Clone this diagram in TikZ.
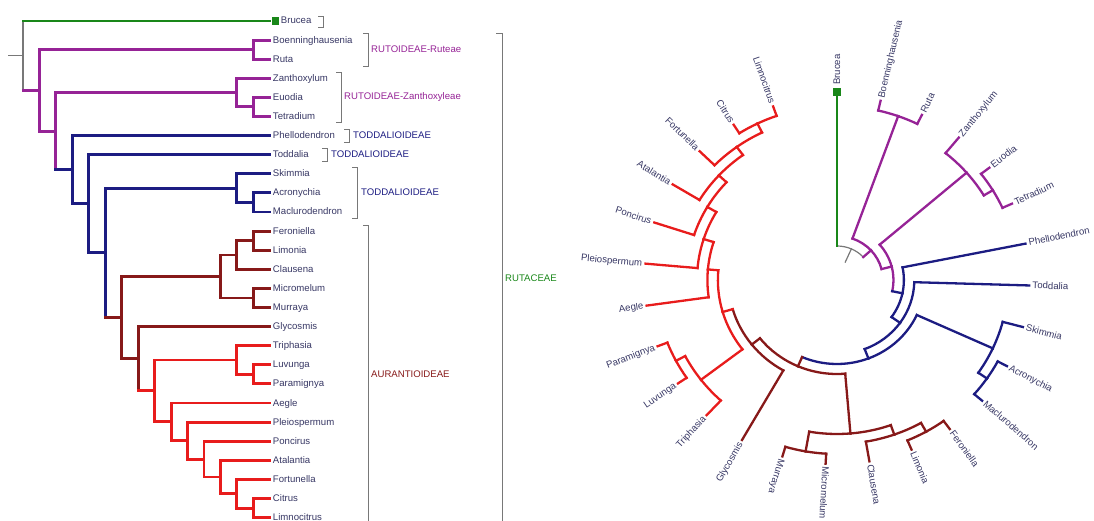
\documentclass[tikz,border=0pt]{standalone}
\usepackage{fontspec}
\setmainfont{Liberation Sans}

\definecolor{rutgreen}{RGB}{25,135,25}
\definecolor{rutpurple}{RGB}{150,35,150}
\definecolor{todblue}{RGB}{28,28,130}
\definecolor{aurbrown}{RGB}{135,25,25}
\definecolor{citred}{RGB}{232,28,28}
\definecolor{taxongray}{RGB}{55,55,100}
\definecolor{treegray}{RGB}{120,120,120}

% left tree: x from depth level, y from leaf rank
\newcommand{\treex}[1]{23+16.45*(#1)}
\newcommand{\treey}[1]{21+19.1*(#1)}
% circular tree: angle from leaf rank, radius from depth level
\newcommand{\circang}[1]{90-13.1*(#1)}
\newcommand{\circrad}[1]{34+10*(#1)}

\tikzset{
  lbranch/.style={line width=2.9pt, line cap=rect},
  rbranch/.style={line width=2.3pt, line cap=rect},
  rootline/.style={treegray, line width=1.2pt},
  brucea/.style={rutgreen}, ruto/.style={rutpurple}, todd/.style={todblue},
  auran/.style={aurbrown}, citr/.style={citred},
  circ/.style={shift={(837,280)}, xscale=1.045, yscale=-1},
  taxon/.style={taxongray, font=\fontsize{9.6}{11}\selectfont, inner sep=0pt, text height=7pt, text depth=1pt},
  grouplab/.style={font=\fontsize{9.6}{11}\selectfont, inner sep=0pt, anchor=west, text height=7pt, text depth=1pt},
  bracket/.style={treegray, line width=0.8pt}
}

% one edge: parent level, parent rank, child level, child rank, parent style, child style
\newcommand{\branch}[6]{%
  \draw[lbranch,#5] ({\treex{#1}},{\treey{#2}}) -- ({\treex{#1}},{\treey{#4}});
  \draw[lbranch,#6] ({\treex{#1}},{\treey{#4}}) -- ({\treex{#3}},{\treey{#4}});
  \begin{scope}[circ]
    \draw[rbranch,#5] ({\circang{#2}}:{\circrad{#1}}) arc[start angle={\circang{#2}}, end angle={\circang{#4}}, radius={\circrad{#1}}];
    \draw[rbranch,#6] ({\circang{#4}}:{\circrad{#1}}) -- ({\circang{#4}}:{\circrad{#3}});
  \end{scope}}

% one leaf label in both trees: rank, name, gap after the tip
\newcommand{\taxon}[3]{%
  \node[taxon,anchor=west] (lt#1) at ({\treex{15}+#3},{\treey{#1}}) {#2};
  \begin{scope}[circ]
    \ifnum#1>15
      \node[taxon,anchor=east,rotate={\circang{#1}+180}] (ct#1) at ({\circang{#1}}:{\circrad{15}+#3}) {#2};
    \else
      \node[taxon,anchor=west,rotate={\circang{#1}}] (ct#1) at ({\circang{#1}}:{\circrad{15}+#3}) {#2};
    \fi
  \end{scope}}

\begin{document}
\begin{tikzpicture}[x=1pt,y=-1pt]
	\useasboundingbox (0,0) rectangle (1094,521);
	
	% ROOT
	\draw[rootline] (8,{\treey{1.82}}) -- ({\treex{0}},{\treey{1.82}});
	\begin{scope}[circ]
	\draw[rootline] ({\circang{1.82}}:{\circrad{0}}) -- ({\circang{1.82}}:19);
	\end{scope}
	\branch{0}{1.82}{15}{0}{rootline}{brucea}
	\branch{0}{1.82}{1}{3.635}{rootline}{ruto}
	
	% RUTOIDEAE
	\branch{1}{3.635}{14}{1.5}{ruto}{ruto}
	\branch{1}{3.635}{2}{5.77}{ruto}{ruto}
	\branch{14}{1.5}{15}{1}{ruto}{ruto}
	\branch{14}{1.5}{15}{2}{ruto}{ruto}
	\branch{2}{5.77}{13}{3.75}{ruto}{ruto}
	\branch{2}{5.77}{3}{7.785}{ruto}{todd}
	\branch{13}{3.75}{15}{3}{ruto}{ruto}
	\branch{13}{3.75}{14}{4.5}{ruto}{ruto}
	\branch{14}{4.5}{15}{4}{ruto}{ruto}
	\branch{14}{4.5}{15}{5}{ruto}{ruto}
	
	% TODDALIOIDEAE
	\branch{3}{7.785}{15}{6}{todd}{todd}
	\branch{3}{7.785}{4}{9.57}{todd}{todd}
	\branch{4}{9.57}{15}{7}{todd}{todd}
	\branch{4}{9.57}{5}{12.14}{todd}{todd}
	\branch{5}{12.14}{13}{8.75}{todd}{todd}
	\branch{5}{12.14}{6}{15.529}{todd}{auran}
	\branch{13}{8.75}{15}{8}{todd}{todd}
	\branch{13}{8.75}{14}{9.5}{todd}{todd}
	\branch{14}{9.5}{15}{9}{todd}{todd}
	\branch{14}{9.5}{15}{10}{todd}{todd}
	
	% AURANTIOIDEAE
	\branch{6}{15.529}{12}{13.375}{auran}{auran}
	\branch{6}{15.529}{7}{17.684}{auran}{auran}
	\branch{12}{13.375}{13}{12.25}{auran}{auran}
	\branch{12}{13.375}{14}{14.5}{auran}{auran}
	\branch{13}{12.25}{14}{11.5}{auran}{auran}
	\branch{13}{12.25}{15}{13}{auran}{auran}
	\branch{14}{11.5}{15}{11}{auran}{auran}
	\branch{14}{11.5}{15}{12}{auran}{auran}
	\branch{14}{14.5}{15}{14}{auran}{auran}
	\branch{14}{14.5}{15}{15}{auran}{auran}
	\branch{7}{17.684}{15}{16}{auran}{auran}
	\branch{7}{17.684}{8}{19.367}{auran}{citr}
	
	% CITRUS GROUP
	\branch{8}{19.367}{13}{17.75}{citr}{citr}
	\branch{8}{19.367}{9}{20.984}{citr}{citr}
	\branch{13}{17.75}{15}{17}{citr}{citr}
	\branch{13}{17.75}{14}{18.5}{citr}{citr}
	\branch{14}{18.5}{15}{18}{citr}{citr}
	\branch{14}{18.5}{15}{19}{citr}{citr}
	\branch{9}{20.984}{15}{20}{citr}{citr}
	\branch{9}{20.984}{10}{21.969}{citr}{citr}
	\branch{10}{21.969}{15}{21}{citr}{citr}
	\branch{10}{21.969}{11}{22.9375}{citr}{citr}
	\branch{11}{22.9375}{15}{22}{citr}{citr}
	\branch{11}{22.9375}{12}{23.875}{citr}{citr}
	\branch{12}{23.875}{15}{23}{citr}{citr}
	\branch{12}{23.875}{13}{24.75}{citr}{citr}
	\branch{13}{24.75}{15}{24}{citr}{citr}
	\branch{13}{24.75}{14}{25.5}{citr}{citr}
	\branch{14}{25.5}{15}{25}{citr}{citr}
	\branch{14}{25.5}{15}{26}{citr}{citr}
	
	% outgroup marks
	\fill[rutgreen] (272,17.5) rectangle (279,25.5);
	\begin{scope}[circ]
	\fill[rutgreen] (-3.6,184) rectangle (3.6,192);
	\end{scope}
	
	% LEAVES
	\taxon{0}{Brucea}{11}
	\taxon{1}{Boenninghausenia}{3}
	\taxon{2}{Ruta}{3}
	\taxon{3}{Zanthoxylum}{3}
	\taxon{4}{Euodia}{3}
	\taxon{5}{Tetradium}{3}
	\taxon{6}{Phellodendron}{3}
	\taxon{7}{Toddalia}{3}
	\taxon{8}{Skimmia}{3}
	\taxon{9}{Acronychia}{3}
	\taxon{10}{Maclurodendron}{3}
	\taxon{11}{Feroniella}{3}
	\taxon{12}{Limonia}{3}
	\taxon{13}{Clausena}{3}
	\taxon{14}{Micromelum}{3}
	\taxon{15}{Murraya}{3}
	\taxon{16}{Glycosmis}{3}
	\taxon{17}{Triphasia}{3}
	\taxon{18}{Luvunga}{3}
	\taxon{19}{Paramignya}{3}
	\taxon{20}{Aegle}{3}
	\taxon{21}{Pleiospermum}{3}
	\taxon{22}{Poncirus}{3}
	\taxon{23}{Atalantia}{3}
	\taxon{24}{Fortunella}{3}
	\taxon{25}{Citrus}{3}
	\taxon{26}{Limnocitrus}{3}
	
	% GROUPS
	\draw[bracket] (318,16) -- (323,16) -- (323,27) -- (318,27);
	\draw[bracket] (363,33) -- (368,33) -- (368,66) -- (363,66);
	\path (371,49.5) node[grouplab, rutpurple] (ruteae) {RUTOIDEAE-Ruteae};
	\draw[bracket] (336,72) -- (341,72) -- (341,122) -- (336,122);
	\path (344,97) node[grouplab, rutpurple] (zanthox) {RUTOIDEAE-Zanthoxyleae};
	\draw[bracket] (344,129) -- (349,129) -- (349,142) -- (344,142);
	\path (353,135.5) node[grouplab, todblue] (toddA) {TODDALIOIDEAE};
	\draw[bracket] (322,148) -- (327,148) -- (327,161) -- (322,161);
	\path (331,154.5) node[grouplab, todblue] (toddB) {TODDALIOIDEAE};
	\draw[bracket] (352,167) -- (357,167) -- (357,218) -- (352,218);
	\path (361,193) node[grouplab, todblue] (toddC) {TODDALIOIDEAE};
	\draw[bracket] (363,225) -- (368,225) -- (368,530);
	\path (371,374) node[grouplab, aurbrown] (auran) {AURANTIOIDEAE};
	\draw[bracket] (496,33) -- (502,33) -- (502,530);
	\path (505,278) node[grouplab, rutgreen] (rutaceae) {RUTACEAE};
	
\end{tikzpicture}
\end{document}
